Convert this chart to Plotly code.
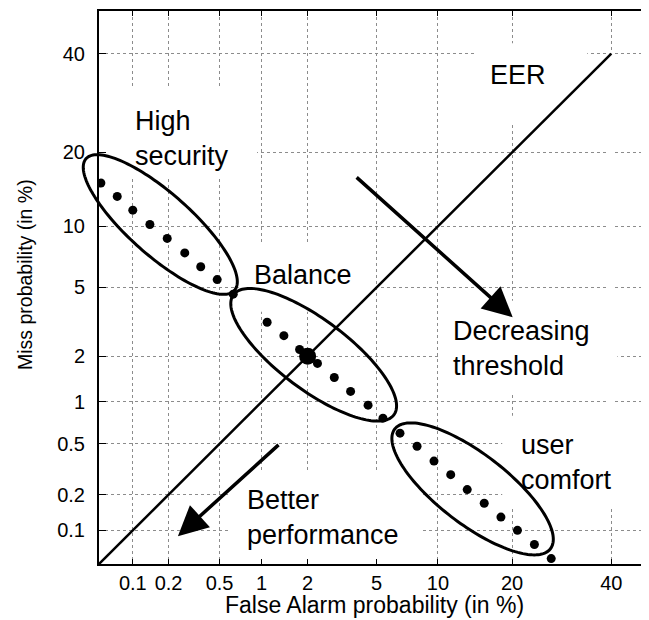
import math
from statistics import NormalDist
import plotly.graph_objects as go

ND = NormalDist()


def z(pct):
    """probit (normal deviate) of a percentage"""
    return ND.inv_cdf(pct / 100.0)


# ---------------- data (percent) ----------------
far_pct = [0.052, 0.073, 0.10, 0.14, 0.195, 0.27, 0.36, 0.48, 0.63,
           1.09, 1.41, 1.78, 2.3, 2.9, 3.6, 4.5, 5.4,
           6.6, 8.0, 9.6, 11.4, 13.4, 15.7, 18.2, 20.9, 23.9, 27.1]
miss_pct = [15.3, 13.5, 11.8, 10.2, 8.8, 7.5, 6.4, 5.5, 4.6,
            3.2, 2.67, 2.2, 1.8, 1.46, 1.18, 0.95, 0.77,
            0.60, 0.48, 0.37, 0.29, 0.22, 0.17, 0.13, 0.10, 0.075, 0.056]
eer_far = [2.0]
eer_miss = [2.0]
eer_line_pct = [0.05, 40]
tick_pct = [0.1, 0.2, 0.5, 1, 2, 5, 10, 20, 40]
tick_text = ["0.1", "0.2", "0.5", "1", "2", "5", "10", "20", "40"]

# ---------------- axes ----------------
xr = [z(0.05), z(48.8)]
yr = [z(0.05), 0.0]
FONT = "Liberation Sans, Arial, sans-serif"

fig = go.Figure()

fig.add_trace(go.Scatter(
    x=[z(v) for v in eer_line_pct], y=[z(v) for v in eer_line_pct],
    mode="lines", line=dict(color="black", width=2.5), hoverinfo="skip"))
fig.add_trace(go.Scatter(
    x=[z(v) for v in far_pct], y=[z(v) for v in miss_pct],
    mode="markers", marker=dict(color="black", size=9), hoverinfo="skip"))
fig.add_trace(go.Scatter(
    x=[z(v) for v in eer_far], y=[z(v) for v in eer_miss],
    mode="markers", marker=dict(color="black", size=17), hoverinfo="skip"))

# ---------------- decorations ----------------
shapes = []
# white boxes behind labels (hide grid)
boxes = [
    (14.5, 34.6, 25.4, 42.4),    # EER
    (0.05, 0.93, 16.0, 32.3),    # High security
    (0.69, 4.79, 3.68, 8.3),     # Balance
    (10.1, 41.4, 1.15, 4.24),    # Decreasing threshold
    (18.4, 47.2, 0.161, 0.80),   # user comfort
    (0.587, 8.36, 0.0532, 0.31),  # Better performance
    (39.3, 40.7, 0.161, 40.0),   # gap in 40% grid line
]
for x0, x1, y0, y1 in boxes:
    shapes.append(dict(type="rect", xref="x", yref="y", layer="between",
                       x0=z(x0), x1=z(x1), y0=z(y0), y1=z(y1),
                       fillcolor="white", line=dict(width=0)))


def ellipse_path(cx_pct, cy_pct, a, b, ang_deg, n=160):
    cx, cy = z(cx_pct), z(cy_pct)
    th = math.radians(ang_deg)
    pts = []
    for i in range(n):
        t = 2 * math.pi * i / n
        u, v = a * math.cos(t), b * math.sin(t)
        zx = cx + u * math.cos(th) + v * math.sin(th)
        zy = cy - u * math.sin(th) + v * math.cos(th)
        fx = (zx - xr[0]) / (xr[1] - xr[0])
        fy = (zy - yr[0]) / (yr[1] - yr[0])
        pts.append(f"{fx:.5f},{fy:.5f}")
    return "M" + " L".join(pts) + " Z"


ellipses = [
    (0.171, 10.2, 0.589, 0.185, 41.7),
    (2.18, 2.04, 0.595, 0.208, 37.0),
    (14.1, 0.223, 0.583, 0.208, 37.7),
]
for e in ellipses:
    shapes.append(dict(type="path", xref="x domain", yref="y domain",
                       path=ellipse_path(*e), layer="above",
                       line=dict(color="black", width=3)))

LBL = dict(family=FONT, size=27, color="black")
annotations = [
    dict(x=z(21.0), y=z(35.1), text="EER", xanchor="center", yanchor="middle"),
    dict(x=z(0.1), y=z(22.4), text="High<br>security", xanchor="left",
         yanchor="middle", align="left"),
    dict(x=z(1.87), y=z(5.83), text="Balance", xanchor="center", yanchor="middle"),
    dict(x=z(11.45), y=z(2.22), text="Decreasing<br>threshold", xanchor="left",
         yanchor="middle", align="left"),
    dict(x=z(21.2), y=z(0.358), text="user<br>comfort", xanchor="left",
         yanchor="middle", align="left"),
    dict(x=z(0.761), y=z(0.128), text="Better<br>performance", xanchor="left",
         yanchor="middle", align="left"),
]
for a in annotations:
    a.update(xref="x", yref="y", showarrow=False, font=LBL)

arrows = [
    ((3.82, 16.3), (20.1, 3.42)),
    ((1.33, 0.503), (0.238, 0.089)),
]
for (tx, ty), (hx, hy) in arrows:
    annotations.append(dict(
        x=z(hx), y=z(hy), ax=z(tx), ay=z(ty), xref="x", yref="y",
        axref="x", ayref="y", text="", showarrow=True, arrowhead=2,
        arrowsize=1.7, arrowwidth=3.5, arrowcolor="black", standoff=0))

annotations.append(dict(xref="paper", yref="paper", x=0.5, y=-0.0741,
                        text="False Alarm probability (in %)", showarrow=False,
                        xanchor="center", yanchor="middle",
                        font=dict(family=FONT, size=23, color="black")))
annotations.append(dict(xref="paper", yref="paper", x=-0.1345, y=0.5226,
                        text="Miss probability (in %)", showarrow=False,
                        textangle=-90, xanchor="center", yanchor="middle",
                        font=dict(family=FONT, size=19.5, color="black")))

axis_common = dict(
    tickvals=[z(v) for v in tick_pct], ticktext=tick_text,
    tickfont=dict(family=FONT, size=20, color="black"),
    showgrid=True, gridcolor="#8c8c8c", gridwidth=1, griddash="dot",
    zeroline=False, showline=True, linecolor="black", linewidth=2,
    ticks="inside", tickcolor="black", tickwidth=1,
)

# the page body adds an 8px offset, so the figure is 8px smaller and shifted
fig.update_layout(
    width=641, height=612,
    margin=dict(l=91, r=0, t=3, b=56),
    paper_bgcolor="white", plot_bgcolor="white",
    showlegend=False,
    xaxis=dict(range=xr, mirror="ticks", ticklen=5, ticklabelstandoff=0,
               **axis_common),
    yaxis=dict(range=yr, mirror=False, ticklen=7, ticklabelstandoff=8,
               **axis_common),
    shapes=shapes, annotations=annotations,
)

fig.write_html("out.html")
